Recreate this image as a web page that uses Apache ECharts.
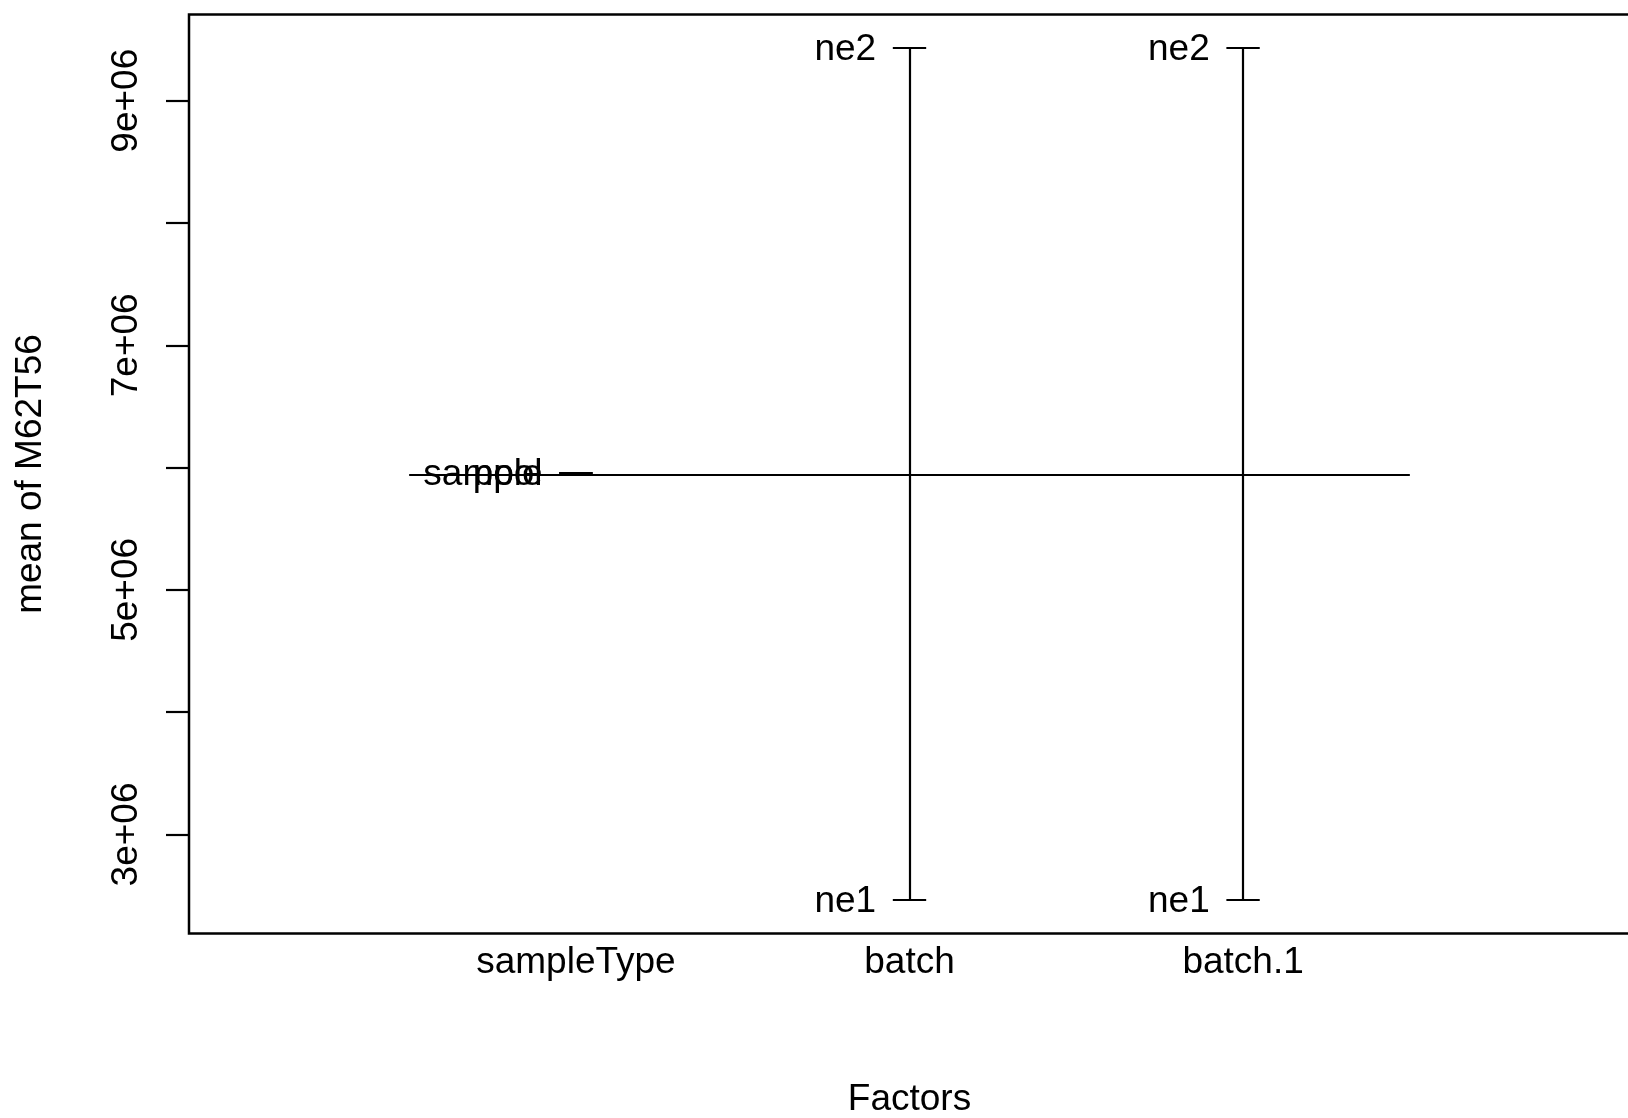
<!DOCTYPE html>
<html>
<head>
<meta charset="utf-8">
<script src="https://cdn.jsdelivr.net/npm/echarts@6/dist/echarts.min.js"></script>
<style>
html,body{margin:0;padding:0;background:#fff;}
#chart{width:1628px;height:1118px;}
</style>
</head>
<body>
<div id="chart"></div>
<script>
// ---- data ----
const factors = ['sampleType', 'batch', 'batch.1'];
const levelNames = [['pool', 'sample'], ['ne1', 'ne2'], ['ne1', 'ne2']];
const levelMeans = [[5.956e6, 5.956e6], [2.465e6, 9.432e6], [2.465e6, 9.432e6]];
const grandMean = 5.945e6;
const yTickValues = [3e6, 4e6, 5e6, 6e6, 7e6, 8e6, 9e6];
const yLabelValues = [3e6, 5e6, 7e6, 9e6];
const yLabelTexts = ['3e+06', '5e+06', '7e+06', '9e+06'];
const xTitle = 'Factors';
const yTitle = 'mean of M62T56';

// ---- build ----
const FONT = 'Liberation Sans, Arial, Helvetica, sans-serif';
const FS = 37;
const TICK_HALF = 0.05, LABEL_OFF = 0.1;
const segs = [];
const labels = [];
factors.forEach((f, i) => {
  const x = i + 1;
  const vals = levelMeans[i];
  segs.push({coords: [[x, Math.min(...vals)], [x, Math.max(...vals)]]});
  vals.forEach((v, k) => {
    segs.push({coords: [[x - TICK_HALF, v], [x + TICK_HALF, v]]});
    labels.push({value: [x - LABEL_OFF, v], name: levelNames[i][k]});
  });
});
segs.push({coords: [[0.5, grandMean], [factors.length + 0.5, grandMean]]});

const chart = echarts.init(document.getElementById('chart'), null, {renderer: 'canvas'});
chart.setOption({
  animation: false,
  backgroundColor: '#fff',
  textStyle: {fontFamily: FONT, color: '#000'},
  grid: {left: 189, right: -2, top: 14.5, bottom: 184.5, show: true,
         outerBoundsMode: 'none', containLabel: false,
         borderColor: '#000', borderWidth: 2.5, backgroundColor: 'transparent'},
  xAxis: {
    type: 'value', min: -0.16, max: 4.16,
    splitLine: {show: false}, axisLine: {show: false, onZero: false}, axisTick: {show: false},
    axisLabel: {
      customValues: factors.map((f, i) => i + 1),
      formatter: v => factors[Math.round(v) - 1] || '',
      fontSize: FS, color: '#000', fontFamily: FONT, margin: 11
    },
    name: xTitle, nameLocation: 'middle', nameGap: 148,
    nameTextStyle: {fontSize: FS, color: '#000', fontFamily: FONT}
  },
  yAxis: {
    type: 'value', min: 2.19e6, max: 9.705e6,
    splitLine: {show: false}, axisLine: {show: false, onZero: false},
    axisTick: {show: true, inside: false, length: 23, customValues: yTickValues,
               lineStyle: {color: '#000', width: 2.2}},
    axisLabel: {
      customValues: yLabelValues,
      formatter: v => yLabelTexts[yLabelValues.indexOf(v)] || '',
      rotate: 90, fontSize: FS, color: '#000', fontFamily: FONT, margin: 44
    },
    name: yTitle, nameLocation: 'middle', nameGap: 140,
    nameTextStyle: {fontSize: FS, color: '#000', fontFamily: FONT}
  },
  series: [
    {
      type: 'lines', coordinateSystem: 'cartesian2d', silent: true,
      lineStyle: {color: '#000', width: 2.2, opacity: 1, curveness: 0},
      data: segs
    },
    {
      type: 'scatter', silent: true, symbolSize: 0,
      itemStyle: {color: '#000', opacity: 1},
      label: {show: true, position: 'left', distance: 0, formatter: '{b}', offset: [0, 2],
              fontSize: FS, color: '#000', opacity: 1, fontFamily: FONT},
      emphasis: {disabled: true},
      data: labels
    }
  ]
});
</script>
</body>
</html>
